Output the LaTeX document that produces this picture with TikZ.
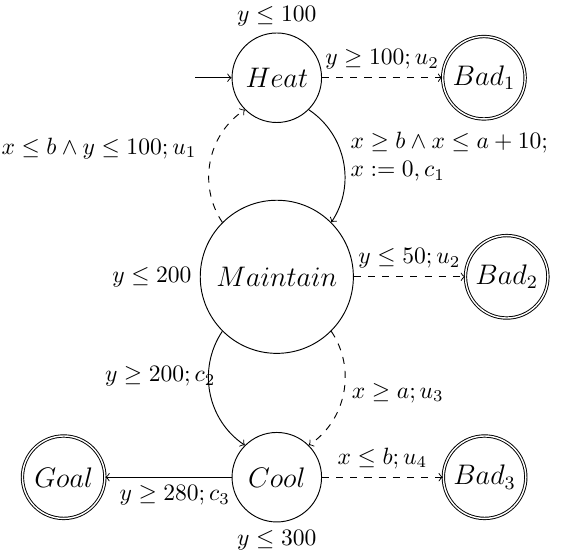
\documentclass[tikz,border=0pt]{standalone}
\usepackage{amsmath,amssymb}
\usepackage{tikz}
\usetikzlibrary{arrows}
\tikzset{
  loc/.style={circle, draw, minimum size=38pt, inner sep=1pt, font=\fontsize{12.8}{15}\selectfont},
  bigloc/.style={loc, minimum size=65pt},
  badloc/.style={circle, draw, double, minimum size=35pt, inner sep=1pt, font=\fontsize{11.5}{14}\selectfont},
  ctrl/.style={->},
  unctrl/.style={->, dashed}
}

\begin{document}
\begin{tikzpicture}
\useasboundingbox (-4.13,-4.13) rectangle (4.27,4.13);
\node[bigloc, label=left:{$y \leq 200$}] (maintain) at (0,0) {$Maintain$};
\node[loc, label={[label distance=-1pt]above:{$y \leq 100$}}] (heat) at (0,2.97) {$Heat$};
\node[loc, label=below:{$y \leq 300$}] (cool) at (0,-2.99) {$Cool$};
\node[badloc] (bad1) at (3.09,2.97) {$Bad_1$};
\node[badloc] (bad2) at (3.43,0) {$Bad_2$};
\node[badloc] (bad3) at (3.10,-2.99) {$Bad_3$};
\node[badloc, font=\fontsize{12.8}{15}\selectfont] (goal) at (-3.18,-2.99) {$Goal$};
\coordinate (start) at (-1.22,2.97);

\draw[ctrl] (start) -- (heat);
\draw[unctrl] (heat) -- node[above] {$y \geq 100; u_2$} (bad1);
\draw[ctrl] (heat) to[bend left=45] node[pos=0.46, right=0pt, align=left] {$x \geq b \wedge x \leq a+10;$\\$x := 0, c_1$} (maintain);
\draw[unctrl] (maintain) to[bend left=45] node[pos=0.61, left=4pt] {$x \leq b \wedge y \leq 100; u_1$} (heat);
\draw[unctrl] (maintain) -- node[above] {$y \leq 50; u_2$} (bad2);
\draw[ctrl] (maintain) to[bend right=45] node[pos=0.37, left=-6.5pt] {$y \geq 200; c_2$} (cool);
\draw[unctrl] (maintain) to[bend left=45] node[right] {$x \geq a; u_3$} (cool);
\draw[ctrl] (cool) -- node[pos=0.45, below] {$y \geq 280; c_3$} (goal);
\draw[unctrl] (cool) -- node[above] {$x \leq b; u_4$} (bad3);
\end{tikzpicture}
\end{document}
